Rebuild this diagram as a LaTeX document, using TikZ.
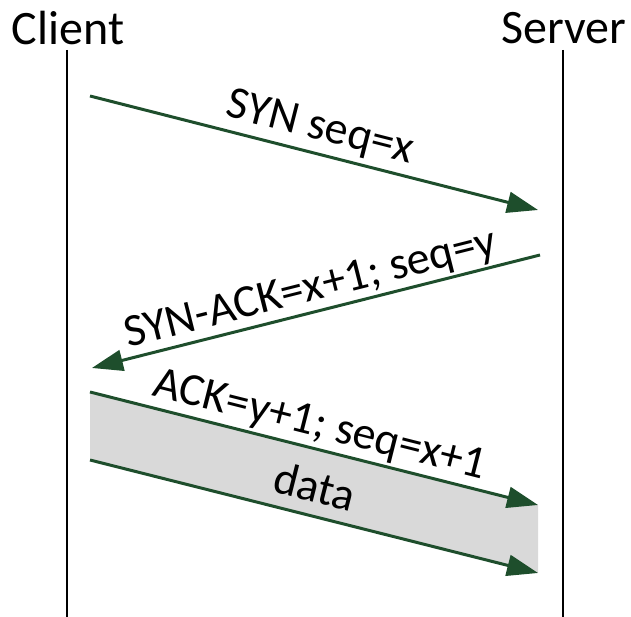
\documentclass[tikz,border=0pt]{standalone}
\usepackage{fontspec}
\setmainfont{Carlito}
\usetikzlibrary{arrows.meta}
\definecolor{arrgreen}{RGB}{30,78,44}
\definecolor{band}{RGB}{217,217,217}
\begin{document}
\begin{tikzpicture}[x=1pt,y=-1pt,
  every node/.style={font=\fontsize{46}{54}\selectfont, inner sep=0pt},
  head/.style={font=\fontsize{48}{56}\selectfont},
  lifeline/.style={draw=black, line width=2pt},
  msg/.style={draw=arrgreen, line width=3pt, -{Triangle[length=31pt,width=21pt]}},
  lbl/.style={text=black}]
\useasboundingbox (0,0) rectangle (631,617);
\node[head] (client) at (68,28) {Client};
\node[head] (server) at (564,28) {Server};
\coordinate (cb) at (67,617);
\coordinate (sb) at (563,617);
\draw[lifeline] (67,50) -- (cb);
\draw[lifeline] (563,50) -- (sb);
\coordinate (a1) at (90,96);
\coordinate (b1) at (538,210);
\coordinate (a2) at (540,255);
\coordinate (b2) at (92,368);
\coordinate (a3) at (90,392);
\coordinate (b3) at (538,505);
\coordinate (a4) at (90,460);
\coordinate (b4) at (538,573);
\fill[band] (a3) -- (b3) -- (b4) -- (a4) -- cycle;
\draw[msg] (a1) -- (b1) node[midway, rotate=-14.28, anchor=south, yshift=5pt] (l1) {SYN seq=x};
\draw[msg] (a2) -- (b2) node[midway, rotate=14.16, anchor=south, yshift=2pt] (l2) {SYN-ACK=x+1; seq=y};
\draw[msg] (a3) -- (b3) node[midway, rotate=-14.16, anchor=south, yshift=3pt] (l3) {ACK=y+1; seq=x+1};
\draw[msg] (a4) -- (b4);
\node[rotate=-14.16] (l4) at (315,486) {data};
\end{tikzpicture}
\end{document}
